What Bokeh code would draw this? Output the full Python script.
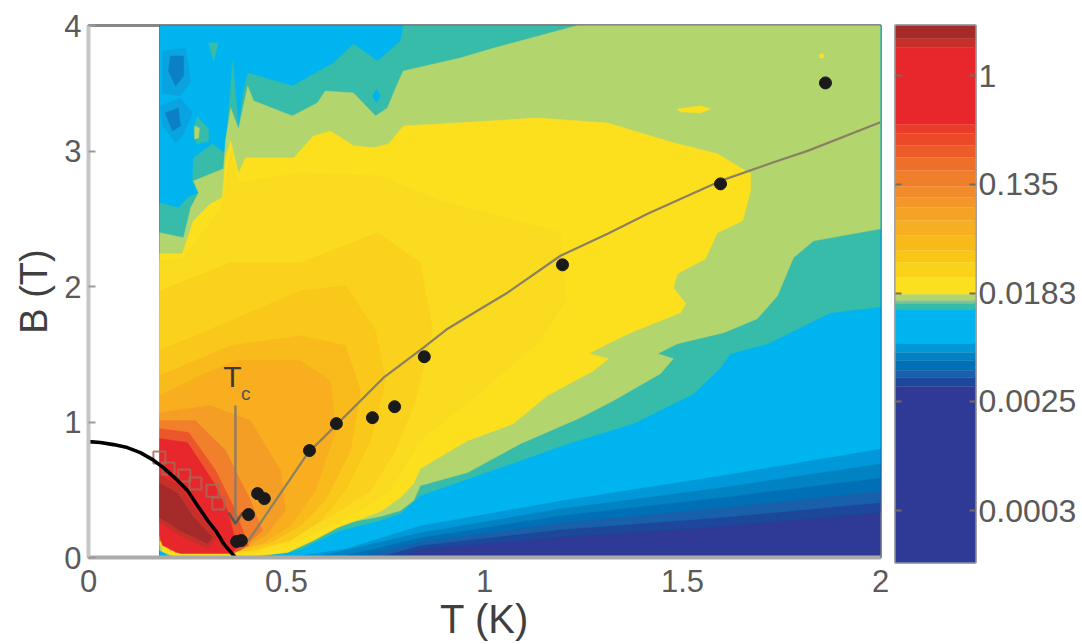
from bokeh.plotting import figure
from bokeh.layouts import row
from bokeh.models import FixedTicker, Range1d, LogAxis
from bokeh.core.properties import value
from bokeh.embed import file_html
from bokeh.resources import INLINE

# ---- axes -------------------------------------------------------------
T_MIN, T_MAX = 0.18, 2.0
B_TOP = 3.93
x_ticks = [0, 0.5, 1, 1.5, 2]
x_labels = {0: "0", 0.5: "0.5", 1: "1", 1.5: "1.5", 2: "2"}
y_ticks = [0, 1, 2, 3, B_TOP]
y_labels = {0: "0", 1: "1", 2: "2", 3: "3", B_TOP: "4"}

# ---- colour scale: band edges (top to bottom) and colours -------------
band_edges = [2.51, 1.97, 1.67, 0.406, 0.344, 0.276, 0.222, 0.174, 0.130, 0.106,
              0.0884, 0.0696, 0.0528, 0.0401, 0.0321, 0.0244, 0.0178, 0.0160,
              0.0151, 0.0136, 0.00726, 0.00615, 0.00530, 0.00442, 0.00388,
              0.00329, 0.000129]
band_colors = ["#A52A2A", "#C5302B", "#E8272C", "#EA3C2B", "#EB4A2A", "#EC5C2A",
               "#EE6E2B", "#F07F2B", "#F18C2A", "#F2972A", "#F4A325", "#F6AF20",
               "#F6BA1A", "#F9C616", "#F9D31A", "#FAE01E", "#B3D56E", "#7CC593",
               "#36BCA9", "#00B5EF", "#0098D8", "#0082C3", "#0070B6", "#1860A9",
               "#1C479B", "#2F3A96"]
cbar_ticks = [1, 0.135, 0.0183, 0.0025, 0.000335]
cbar_labels = {1: "1", 0.135: "0.135", 0.0183: "0.0183", 0.0025: "0.0025", 0.000335: "0.0003"}

# ---- level regions of the map: (T, B) outlines ------------------------
ramp6 = [(.788, .007), (.838, .059), (1.192, .148), (1.596, .229), (2, .332)]
ramp5 = [(.737, .007), (.838, .089), (1.192, .207), (1.596, .295), (2, .406)]
ramp4 = [(.687, .007), (.838, .118), (1.192, .258), (1.596, .369), (2, .494)]
ramp3 = [(.636, .007), (.838, .148), (1.192, .310), (1.596, .443), (2, .590)]
ramp2 = [(.586, .015), (.838, .185), (1.192, .362), (1.596, .517), (2, .694)]
ramp1 = [(.45, 0), (.535, .015), (.649, .066), (.838, .236), (1.192, .421), (1.596, .605), (2, .804)]

teal = [(.795, 3.93), (2, 3.93), (2, 1.852), (1.874, 1.808), (1.715, 1.579), (1.621, 1.506),
        (1.596, 1.402), (1.528, 1.210), (1.376, .989), (1.210, .841), (1.040, .664), (.838, .458),
        (.788, .325), (.737, .273), (.636, .199), (.591, .140), (.535, .059), (.472, .022),
        (.409, .007), (.202, .007), (.18, .059), (.18, 2.620), (.227, 2.583), (.25, 2.657),
        (.278, 2.694), (.263, 2.782), (.265, 2.952), (.313, 3.055), (.346, 2.982), (.354, 3.299),
        (.364, 3.668), (.379, 3.173), (.391, 3.446), (.402, 3.579), (.515, 3.483), (.619, 3.653),
        (.669, 3.793), (.730, 3.668), (.788, 3.815)]
green = [(1.235, 3.93), (2, 3.93), (2, 2.428), (1.831, 2.339), (1.780, 2.214), (1.740, 1.934),
         (1.689, 1.764), (1.604, 1.661), (1.487, 1.579), (1.437, 1.506), (1.477, 1.469),
         (1.444, 1.358), (1.326, 1.159), (1.242, 1.033), (1.091, .841), (.957, .627), (.838, .531),
         (.821, .421), (.788, .347), (.737, .303), (.629, .244), (.586, .177), (.530, .081),
         (.465, .037), (.409, .015), (.207, .015), (.18, .052), (.18, 2.399), (.240, 2.362),
         (.258, 2.583), (.278, 2.694), (.265, 2.782), (.341, 2.871), (.346, 3.077), (.359, 3.321),
         (.379, 3.166), (.402, 3.483), (.417, 3.373), (.515, 3.262), (.578, 3.358), (.598, 3.446),
         (.669, 3.432), (.725, 3.262), (.755, 3.321), (.780, 3.498), (.795, 3.594), (.939, 3.690),
         (1.015, 3.756)]
yellow = [(.889, 3.203), (1.134, 3.247), (1.311, 3.210), (1.477, 3.063), (1.588, 2.982),
          (1.672, 2.834), (1.672, 2.708), (1.652, 2.487), (1.588, 2.399), (1.558, 2.207),
          (1.487, 2.096), (1.477, 1.993), (1.508, 1.875), (1.495, 1.808), (1.369, 1.661),
          (1.311, 1.579), (1.263, 1.506), (1.313, 1.469), (1.275, 1.380), (1.159, 1.196),
          (1.073, .989), (.957, .863), (.838, .657), (.821, .546), (.788, .443), (.737, .339),
          (.629, .221), (.568, .125), (.503, .037), (.409, .007), (.220, .007), (.187, .044),
          (.18, 2.244), (.237, 2.244), (.265, 2.487), (.308, 2.613), (.338, 2.657), (.346, 2.952),
          (.359, 3.077), (.379, 2.834), (.396, 2.952), (.518, 2.952), (.568, 3.114), (.611, 3.151),
          (.669, 3.041), (.720, 3.026), (.758, 3.055), (.795, 3.188)]
amber1 = [(.18, 2.192), (.24, 2.207), (.338, 2.598), (.359, 3.004), (.379, 2.768), (.535, 2.841),
          (.737, 2.819), (.889, 2.635), (1.192, 2.399), (1.205, 1.897), (1.141, 1.601), (.965, 1.159),
          (.838, .863), (.763, .494), (.687, .347), (.535, .125), (.409, .022), (.207, .03), (.18, .089)]
amber2 = [(.18, 1.970), (.359, 2.177), (.535, 2.177), (.730, 2.399), (.838, 2.177), (.869, 1.675),
          (.826, 1.159), (.775, .790), (.712, .494), (.636, .347), (.535, .177), (.422, .044),
          (.207, .044), (.18, .125)]
amber3 = [(.18, 1.528), (.359, 1.749), (.535, 1.970), (.649, 2.007), (.725, 1.675), (.75, 1.306),
          (.712, .863), (.649, .494), (.586, .273), (.510, .125), (.409, .052), (.207, .059), (.18, .162)]
amber4 = [(.18, 1.343), (.359, 1.565), (.535, 1.638), (.649, 1.565), (.687, 1.232), (.662, .790),
          (.598, .421), (.535, .236), (.460, .111), (.384, .059), (.207, .074), (.18, .199)]
orange1 = [(.18, 1.196), (.283, 1.343), (.371, 1.454), (.535, 1.454), (.611, 1.306), (.624, .937),
           (.573, .494), (.510, .236), (.439, .103), (.379, .066), (.197, .089), (.18, .236)]
orange2 = [(.18, 1.070), (.308, 1.122), (.409, 1.011), (.485, .642), (.497, .347), (.447, .162),
           (.384, .066), (.197, .103), (.18, .273)]
orange3 = [(.18, 1.011), (.270, 1.011), (.346, .790), (.409, .421), (.439, .199), (.384, .052),
           (.207, .052), (.18, .162)]
redorange = [(.18, .952), (.253, .923), (.321, .642), (.371, .347), (.404, .089), (.371, .037),
             (.220, .037), (.18, .125)]
red = [(.18, .878), (.25, .849), (.316, .554), (.351, .347), (.376, .074), (.359, .03),
       (.232, .03), (.187, .089), (.18, .162)]
darkred1 = [(.18, .605), (.227, .531), (.275, .332), (.323, .148), (.301, .066), (.232, .162), (.18, .258)]
darkred2 = [(.18, .546), (.225, .472), (.265, .295), (.313, .148), (.301, .103), (.232, .199), (.18, .295)]

# small islands on the map
cyan_hole = [(.717, 3.41), (.727, 3.461), (.737, 3.41), (.727, 3.358)]
teal_island = [(.265, 3.151), (.275, 3.255), (.303, 3.166), (.303, 3.077), (.273, 3.055)]
green_island = [(.268, 3.188), (.280, 3.173), (.278, 3.100), (.268, 3.092)]
teal_tip = [(.303, 3.801), (.328, 3.801), (.316, 3.668)]
blue_halo1 = [(.187, 3.742), (.245, 3.764), (.258, 3.520), (.232, 3.410), (.187, 3.43)]
blue_core1 = [(.207, 3.705), (.240, 3.705), (.240, 3.557), (.220, 3.483), (.202, 3.594)]
blue_halo2 = [(.182, 3.336), (.232, 3.395), (.263, 3.284), (.237, 3.114), (.220, 3.063), (.187, 3.188)]
blue_core2 = [(.194, 3.284), (.227, 3.321), (.232, 3.188), (.212, 3.151)]
yellow_island = [(1.487, 3.314), (1.545, 3.336), (1.571, 3.314), (1.545, 3.284), (1.495, 3.292)]
yellow_dot = [(1.846, 3.72), (1.856, 3.72), (1.856, 3.69), (1.846, 3.69)]

# ---- overlaid curves and measured points -------------------------------
hc_T = [0, .03, .063, .098, .131, .162, .189, .220, .25, .275, .301, .321, .341, .371]
hc_B = [.856, .849, .834, .812, .775, .723, .664, .583, .494, .384, .273, .199, .103, 0]
fit_T = [.404, .553, .629, .745, .846, .907, .982, 1.058, 1.192, 1.311, 1.412, 1.596, 1.73, 1.816, 2.0]
fit_B = [.125, .768, .989, 1.328, 1.550, 1.690, 1.823, 1.956, 2.229, 2.391, 2.539, 2.782, 2.92, 3.004, 3.215]
dots_T = [1.861, 1.596, 1.197, .848, .773, .717, .626, .558, .444, .427, .404, .386, .374]
dots_B = [3.506, 2.760, 2.162, 1.483, 1.114, 1.033, .989, .790, .435, .472, .317, .125, .118]
squares_T = [.179, .202, .242, .270, .313, .328]
squares_B = [.738, .657, .605, .546, .494, .399]
tc_T = .371
tc_stem_B = [1.122, .236]
tc_head_T = [.354, .371, .389]
tc_head_B = [.332, .25, .332]

FONT = "Liberation Sans"

p = figure(frame_width=792, frame_height=532, x_range=Range1d(0, 2), y_range=Range1d(0, B_TOP),
           min_border_left=88, min_border_top=25, min_border_right=10, min_border_bottom=85,
           output_backend="svg", toolbar_location=None, background_fill_color="white")
p.grid.visible = False


def fill(outline, color):
    p.patch([a for a, _ in outline], [b for _, b in outline], fill_color=color, line_color=color, line_width=0.5)


corners = [(T_MAX, B_TOP), (T_MIN, B_TOP), (T_MIN, 0)]
fill([(T_MIN, 0), (T_MAX, 0), (T_MAX, B_TOP), (T_MIN, B_TOP)], "#2F3A96")
for ramp, col in [(ramp6, "#1C479B"), (ramp5, "#1860A9"), (ramp4, "#0070B6"),
                  (ramp3, "#0082C3"), (ramp2, "#0098D8"), (ramp1, "#00B5EF")]:
    fill(ramp + corners, col)
for outline, col in [(blue_halo1, "#08A3E0"), (blue_core1, "#0A80C6"), (blue_halo2, "#08A3E0"),
                     (blue_core2, "#0A80C6"), (teal, "#36BCA9"), (teal_island, "#36BCA9"),
                     (teal_tip, "#36BCA9"), (green_island, "#B3D56E"), (cyan_hole, "#00B5EF"),
                     (green, "#B3D56E"), (yellow, "#FCE01E"), (yellow_island, "#FCE01E"),
                     (yellow_dot, "#FCE01E"), (amber1, "#FADB20"), (amber2, "#FAD11D"),
                     (amber3, "#FAC71B"), (amber4, "#F9BA1C"), (orange1, "#F8AE1E"),
                     (orange2, "#F59E25"), (orange3, "#F17F2B"), (redorange, "#EC562B"),
                     (red, "#E8272C"), (darkred1, "#C5302B"), (darkred2, "#A52A2A")]:
    fill(outline, col)

p.line(fit_T, fit_B, line_color="#8A8064", line_width=2.2)
p.scatter(squares_T, squares_B, marker="square", size=12, fill_color=None,
          line_color="#A56A55", line_width=2, line_alpha=0.85)
p.line([tc_T, tc_T], tc_stem_B, line_color="#8F7D63", line_width=2.4)
p.line(tc_head_T, tc_head_B, line_color="#5F544A", line_width=2.4)
p.line(hc_T, hc_B, line_color="black", line_width=3.6)
p.scatter(dots_T, dots_B, marker="circle", size=12, fill_color="#1A1A1A", line_color="#1A1A1A")
p.text([.34], [1.34], text=["T"], text_font=value(FONT), text_font_size="30px", text_color="#3A3A3A",
       text_align="left", text_baseline="middle")
p.text([.385], [1.21], text=["c"], text_font=value(FONT), text_font_size="19px", text_color="#555555",
       text_align="left", text_baseline="middle")

p.xaxis.ticker = FixedTicker(ticks=x_ticks)
p.xaxis.major_label_overrides = x_labels
p.yaxis.ticker = FixedTicker(ticks=y_ticks)
p.yaxis.major_label_overrides = y_labels
p.xaxis.axis_label = "T (K)"
p.yaxis.axis_label = "B (T)"
for ax, col in ((p.xaxis, "#ABABAB"), (p.yaxis, "#C6C6C6")):
    ax.axis_line_color = col
    ax.axis_line_width = 4
    ax.major_tick_in = 7
    ax.major_tick_out = 0
    ax.major_tick_line_color = "#9A9A9A"
    ax.major_tick_line_width = 2
    ax.minor_tick_line_color = None
    ax.major_label_text_font = FONT
    ax.major_label_text_font_size = "31px"
    ax.major_label_text_color = "#5A5A5A"
    ax.axis_label_text_font = FONT
    ax.axis_label_text_font_style = "normal"
    ax.axis_label_text_color = "#3F3F3F"
p.xaxis.major_tick_line_color = None
p.xaxis.major_label_standoff = 12
p.yaxis.major_label_standoff = 7
p.xaxis.axis_label_text_font_size = "40px"
p.yaxis.axis_label_text_font_size = "38px"
p.xaxis.axis_label_standoff = 2
p.yaxis.axis_label_standoff = 6
p.outline_line_color = "#85878A"
p.outline_line_width = 3

cb = figure(frame_width=80, frame_height=537, y_axis_type="log", x_range=Range1d(0, 1),
            y_range=Range1d(band_edges[-1], band_edges[0]), min_border_left=5, min_border_top=25,
            min_border_right=105, min_border_bottom=80, output_backend="svg", toolbar_location=None)
cb.grid.visible = False
cb.quad(left=0, right=1, top=band_edges[:-1], bottom=band_edges[1:], fill_color=band_colors,
        line_color=band_colors, line_width=0.3)
cb.xaxis.visible = False
cb.yaxis.visible = False
cb.add_layout(LogAxis(ticker=FixedTicker(ticks=cbar_ticks), major_label_overrides=cbar_labels,
                      major_tick_in=6, major_tick_out=0, major_tick_line_color="#7A6A5A",
                      major_tick_line_width=2, minor_tick_line_color=None, axis_line_color=None,
                      major_label_text_font=FONT, major_label_text_font_size="32px",
                      major_label_text_color="#5A5A5A", major_label_standoff=3), "right")
cb.add_layout(LogAxis(ticker=FixedTicker(ticks=cbar_ticks), major_label_text_font_size="0px",
                      major_tick_in=6, major_tick_out=0, major_tick_line_color="#7A6A5A",
                      major_tick_line_width=2, minor_tick_line_color=None, axis_line_color=None,
                      major_label_text_color=None), "left")
cb.outline_line_color = "#A3A3A8"
cb.outline_line_width = 3

page = row(p, cb)
open("out.html", "w").write(file_html(page, INLINE))
